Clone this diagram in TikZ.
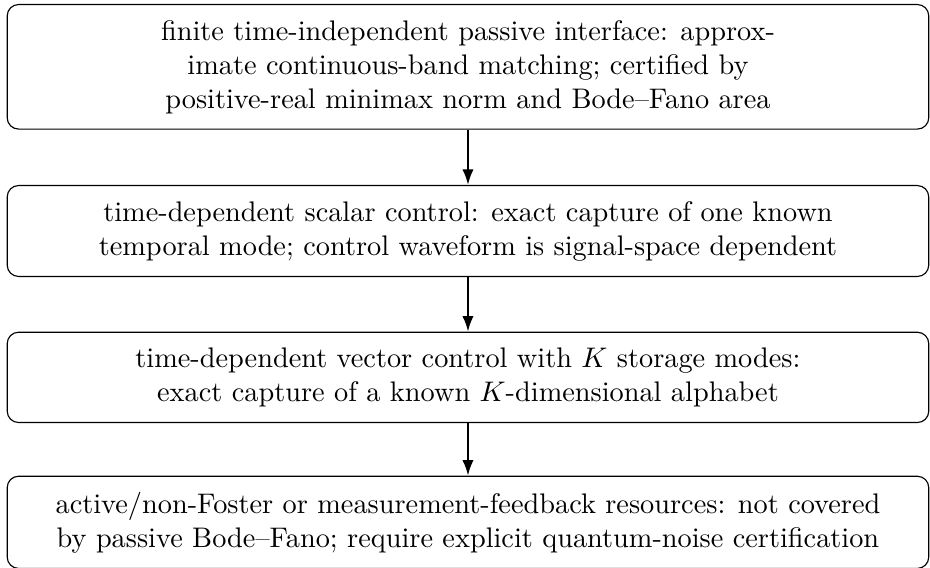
\documentclass[tikz,border=0pt]{standalone}
\usetikzlibrary{arrows.meta}
\begin{document}
\begin{tikzpicture}[x=1pt,y=1pt,
  stagebox/.style={draw, rounded corners=4pt, align=center, minimum width=325.5pt, inner xsep=3.33pt, inner ysep=5.5pt, line width=0.4pt},
  flow/.style={-{Latex[length=5.5pt,width=4pt]}, line width=0.8pt}]
\useasboundingbox (0,0) rectangle (328.5,-200.3);
\node[stagebox] (a) at (165.3,-23.6) {finite time-independent passive interface: approx-\\imate continuous-band matching; certified by\\positive-real minimax norm and Bode--Fano area};
\node[stagebox] (b) at (165.3,-81.6) {time-dependent scalar control: exact capture of one known\\temporal mode; control waveform is signal-space dependent};
\node[stagebox] (c) at (165.3,-133.3) {time-dependent vector control with $K$ storage modes:\\exact capture of a known $K$-dimensional alphabet};
\node[stagebox] (d) at (165.3,-184.5) {active/non-Foster or measurement-feedback resources: not covered\\by passive Bode--Fano; require explicit quantum-noise certification};
\draw[flow] (a) -- (b);
\draw[flow] (b) -- (c);
\draw[flow] (c) -- (d);
\end{tikzpicture}
\end{document}
